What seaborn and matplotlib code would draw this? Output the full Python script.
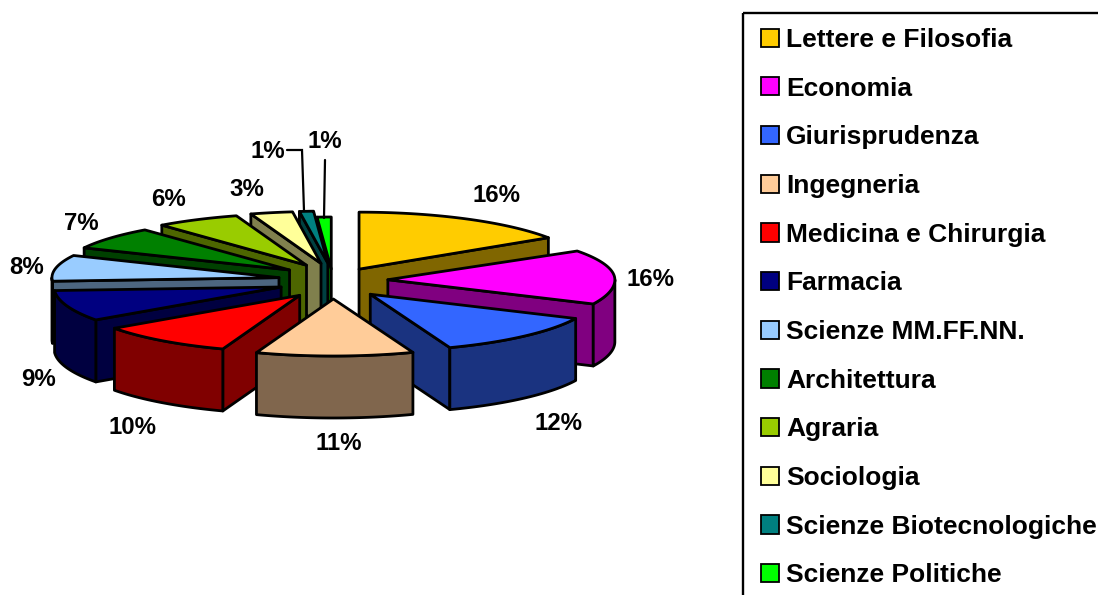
import numpy as np
import matplotlib
matplotlib.use("Agg")
import matplotlib.pyplot as plt
from matplotlib.patches import Patch, Rectangle
import seaborn as sns

# ---- data ----
faculties = ["Lettere e Filosofia", "Economia", "Giurisprudenza", "Ingegneria",
             "Medicina e Chirurgia", "Farmacia", "Scienze MM.FF.NN.", "Architettura",
             "Agraria", "Sociologia", "Scienze Biotecnologiche", "Scienze Politiche"]
shares = [15.7, 16.3, 12.3, 11.2, 9.7, 8.8, 8.0, 7.0, 6.0, 3.0, 1.0, 1.0]
hex_colors = ["#FFCC00", "#FF00FF", "#3366FF", "#FFCC99", "#FF0000", "#000080",
              "#99CCFF", "#008000", "#99CC00", "#FFFF99", "#008080", "#00FF00"]

# ---- layout (pixels) ----
W, H = 1098, 595
CX, CY = 333, 281          # pie centre
RX, RY_BACK, RY_FRONT = 227, 52, 57
EXPLODE_X, EXPLODE_Y = 55, 18
DEPTH = 62
LW = 2.0
apex_nudge_y = {0: 4, 11: 6}
ry_back_override = {0: 57}
label_xy = [(497, 196), (650, 279), (558, 424), (339, 444), (132, 428), (38, 379),
            (27, 268), (81, 224), (168, 199), (247, 190), (268, 152), (325, 142)]
leader_lines = {10: [(287, 150), (302, 150), (304, 211)],
                11: [(325, 160), (324, 218)]}

sns.set_theme(style="white")
plt.rcParams["font.family"] = ["Liberation Sans", "DejaVu Sans"]
palette = sns.color_palette(hex_colors)
dark = [tuple(c * 0.5 for c in col) for col in palette]

fig = plt.figure(figsize=(W / 100, H / 100), dpi=100, facecolor="white")
ax = fig.add_axes([0, 0, 1, 1])
ax.set_xlim(0, W)
ax.set_ylim(H, 0)
ax.axis("off")


def rim(apex, angles, ry_back):
    """Points on the top ellipse of a slice; angles clockwise from 12 o'clock, degrees."""
    a = np.radians(angles)
    c = np.cos(a)
    ry = np.where(c > 0, ry_back, RY_FRONT)
    return apex[0] + RX * np.sin(a), apex[1] - c * ry


edges = np.concatenate([[0], np.cumsum(shares)]) / np.sum(shares) * 360
mids = (edges[:-1] + edges[1:]) / 2
order = np.argsort(-np.cos(np.radians(mids)))

for i in order:
    a0, a1, m = edges[i], edges[i + 1], np.radians(mids[i])
    apex = (CX + EXPLODE_X * np.sin(m),
            CY - EXPLODE_Y * np.cos(m) + apex_nudge_y.get(i, 0))
    rb = ry_back_override.get(i, RY_BACK)
    kw = dict(edgecolor="black", linewidth=LW, joinstyle="round", facecolor=dark[i])

    def wall(angle):
        x, y = rim(apex, np.array([angle]), rb)
        ax.fill([apex[0], x[0], x[0], apex[0]],
                [apex[1], y[0], y[0] + DEPTH, apex[1] + DEPTH], **kw)

    if 180 < a0 < 360:
        wall(a0)
    if 0 < a1 < 180:
        wall(a1)
    lo, hi = max(a0, 90), min(a1, 270)
    if hi > lo:
        x, y = rim(apex, np.linspace(lo, hi, 60), rb)
        ax.fill(np.r_[x, x[::-1]], np.r_[y, y[::-1] + DEPTH], **kw)
    x, y = rim(apex, np.linspace(a0, a1, 80), rb)
    ax.fill(np.r_[apex[0], x], np.r_[apex[1], y], facecolor=palette[i],
            edgecolor="black", linewidth=LW, joinstyle="round")

for pts in leader_lines.values():
    ax.plot(*zip(*pts), color="black", lw=1.6, solid_joinstyle="miter")

for (x, y), v in zip(label_xy, shares):
    ax.text(x, y, f"{round(v)}%", ha="center", va="center", fontsize=17.3,
            fontweight="bold", color="black")

ax.add_patch(Rectangle((743, 13), 420, 640, facecolor="none", edgecolor="black", linewidth=1.7))
handles = [Patch(facecolor=c, edgecolor="black", linewidth=1.3) for c in palette]
leg = ax.legend(handles, faculties, loc="upper left",
                bbox_to_anchor=(761 / W, 1 - 28 / H), bbox_transform=ax.transAxes,
                borderaxespad=0, borderpad=0, labelspacing=0.935, labelcolor="black",
                handlelength=0.68, handleheight=0.68, handletextpad=0.27,
                frameon=False,
                prop={"weight": "bold", "size": 19, "family": "Liberation Sans"})

fig.savefig("out.png", dpi=100)
